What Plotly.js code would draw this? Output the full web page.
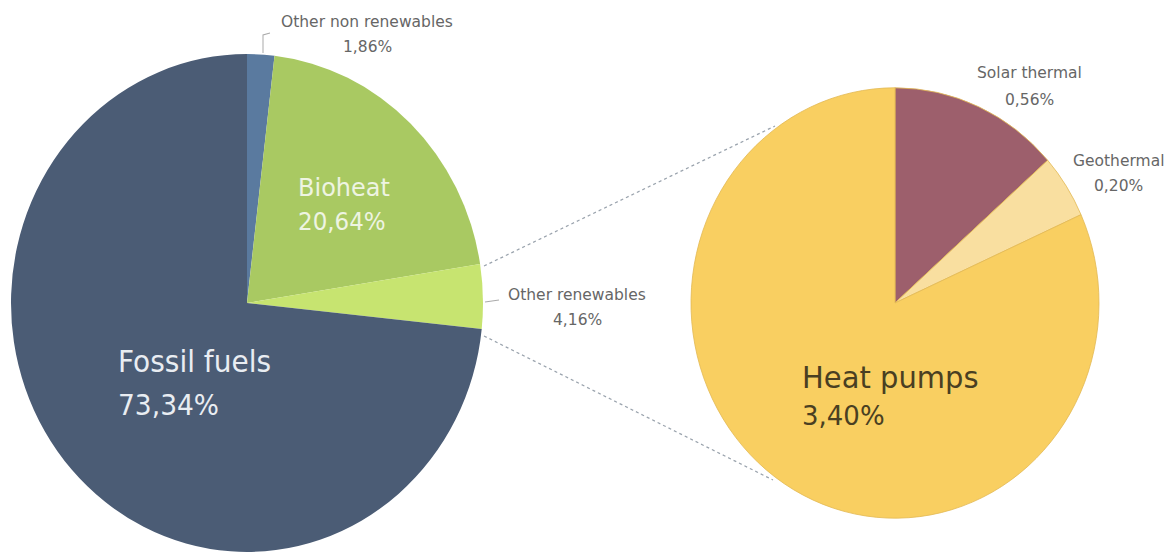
<!DOCTYPE html>
<html>
<head>
<meta charset="utf-8">
<script src="https://cdn.plot.ly/plotly-3.0.1.min.js"></script>
<style>
html,body{margin:0;padding:0;background:#fff;overflow:hidden;}
#wrap{width:1170px;height:557px;overflow:hidden;}
#chart{width:1170px;height:528px;transform:scaleY(1.0549);transform-origin:0 0;}
</style>
</head>
<body>
<div id="wrap"><div id="chart"></div></div>
<script>
// ---- data ----
const mainLabels = ["Other non renewables", "Bioheat", "Other renewables", "Fossil fuels"];
const mainValues = [1.86, 20.64, 4.16, 73.34];
const mainColors = ["#5a7a9f", "#a9c962", "#c7e470", "#4b5c75"];

const subLabels = ["Solar thermal", "Geothermal", "Heat pumps"];
const subValues = [0.56, 0.20, 3.40];
const subColors = ["#9d5f6c", "#f9dfa0", "#f9cf61"];

// ---- helpers ----
const W = 1170, H = 557, HL = 528, S = H / HL;
const px = x => x / W;
const py = y => 1 - y / H;
const fmt = v => v.toFixed(2).replace('.', ',') + '%';
const FONT = '"DejaVu Sans", Verdana, sans-serif';

// label placement: [index, x, y1, y2, anchor, nameSize, valueSize, color]
const mainLabelPos = [
  [0, 367, 22, 46, 'center', 15.5, 15.5, '#666666'],
  [1, 296, 188, 222, 'left', 24, 23, '#eef4e2'],
  [2, 577, 294, 320, 'center', 15.5, 15.5, '#666666'],
  [3, 116, 362, 405, 'left', 28, 26.5, '#e9edf2']
];
const subLabelPos = [
  [0, 1029, 73, 100, 'center', 15.5, 15.5, '#666666'],
  [1, 1118, 160, 186, 'center', 15.5, 15.5, '#666666'],
  [2, 800, 378, 416, 'left', 29, 26, '#4a3f22']
];

const annotations = [];
function addLabels(labels, values, pos) {
  pos.forEach(p => {
    const [i, x, y1, y2, anchor, s1, s2, color] = p;
    [[labels[i], y1, s1], [fmt(values[i]), y2, s2]].forEach(([t, y, sz]) => {
      annotations.push({
        xref: 'paper', yref: 'paper', x: px(x), y: py(y),
        text: t, showarrow: false, xanchor: anchor, yanchor: 'middle',
        font: {family: FONT, size: sz, color: color}
      });
    });
  });
}
addLabels(mainLabels, mainValues, mainLabelPos);
addLabels(subLabels, subValues, subLabelPos);

// connector lines
const shapes = [
  {type: 'line', xref: 'paper', yref: 'paper', x0: px(484), y0: py(266), x1: px(775), y1: py(126),
   line: {color: '#9aa3ad', width: 1.2, dash: 'dot'}},
  {type: 'line', xref: 'paper', yref: 'paper', x0: px(484), y0: py(336), x1: px(773), y1: py(480),
   line: {color: '#9aa3ad', width: 1.2, dash: 'dot'}},
  {type: 'path', xref: 'paper', yref: 'paper',
   path: `M ${px(263)} ${py(53)} L ${px(263)} ${py(35)} L ${px(270)} ${py(33)}`,
   line: {color: '#aaaaaa', width: 1}},
  {type: 'line', xref: 'paper', yref: 'paper', x0: px(485), y0: py(302), x1: px(499), y1: py(300),
   line: {color: '#aaaaaa', width: 1}}
];

// pie domains: centre in reference px, radius in layout px
function dom(cx, cy, r) {
  const rv = r * S;
  return {x: [px(cx - r), px(cx + r)], y: [py(cy + rv), py(cy - rv)]};
}

const traces = [
  {
    type: 'pie', labels: mainLabels, values: mainValues, sort: false,
    direction: 'clockwise', rotation: 0, textinfo: 'none', hoverinfo: 'label+value',
    marker: {colors: mainColors, line: {width: 0}},
    domain: dom(247, 303, 236), showlegend: false
  },
  {
    type: 'pie', labels: subLabels, values: subValues, sort: false,
    direction: 'clockwise', rotation: 0, textinfo: 'none', hoverinfo: 'label+value',
    marker: {colors: subColors, line: {width: 0.8, color: '#e3b955'}},
    domain: dom(895, 303, 204), showlegend: false
  }
];

Plotly.newPlot('chart', traces, {
  width: W, height: HL,
  margin: {l: 0, r: 0, t: 0, b: 0},
  paper_bgcolor: '#ffffff',
  showlegend: false,
  annotations: annotations,
  shapes: shapes
}, {displayModeBar: false, staticPlot: true});
</script>
</body>
</html>
